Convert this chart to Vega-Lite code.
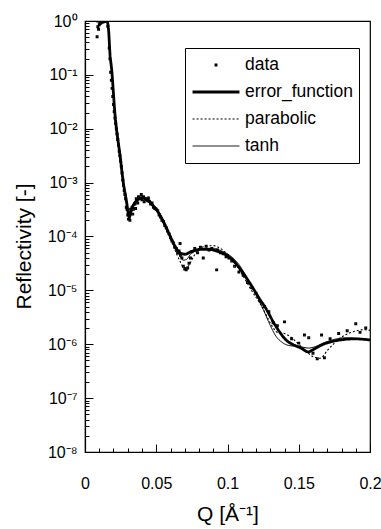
{
  "$schema": "https://vega.github.io/schema/vega-lite/v6.json",
  "width": 285,
  "height": 431,
  "autosize": {"type": "none"},
  "padding": {"left": 85, "top": 21, "right": 11, "bottom": 77},
  "background": "white",
  "config": {
    "view": {"stroke": "black", "strokeWidth": 1.2},
    "font": "Liberation Sans",
    "axis": {"grid": false, "domainColor": "black", "tickColor": "black", "labelColor": "black", "titleColor": "black", "labelFont": "Liberation Sans", "titleFont": "Liberation Sans", "titleFontWeight": "normal", "domainWidth": 1.2, "tickWidth": 1},
    "legend": {"orient": "none", "legendX": 100, "legendY": 27, "strokeColor": "black", "fillColor": "white", "padding": 6, "cornerRadius": 0, "labelFont": "Liberation Sans", "labelFontSize": 17.5, "labelColor": "black", "labelOffset": 4, "symbolSize": 2200, "clipHeight": 22, "rowPadding": 5, "symbolStrokeColor": "black", "title": null}
  },
  "datasets": {
    "pts": [
      {"s": "data", "q": 0.0085, "r": 0.51},
      {"s": "data", "q": 0.009, "r": 0.78},
      {"s": "data", "q": 0.0095, "r": 0.7},
      {"s": "data", "q": 0.010, "r": 0.85},
      {"s": "data", "q": 0.0105, "r": 0.9},
      {"s": "data", "q": 0.011, "r": 0.92},
      {"s": "data", "q": 0.012, "r": 0.95},
      {"s": "data", "q": 0.013, "r": 0.97},
      {"s": "data", "q": 0.014, "r": 1.0},
      {"s": "data", "q": 0.015, "r": 0.98},
      {"s": "data", "q": 0.016, "r": 0.794},
      {"s": "data", "q": 0.017, "r": 0.316},
      {"s": "data", "q": 0.0175, "r": 0.2},
      {"s": "data", "q": 0.018, "r": 0.112},
      {"s": "data", "q": 0.0185, "r": 0.0794},
      {"s": "data", "q": 0.019, "r": 0.0562},
      {"s": "data", "q": 0.0195, "r": 0.0398},
      {"s": "data", "q": 0.020, "r": 0.0282},
      {"s": "data", "q": 0.0205, "r": 0.0209},
      {"s": "data", "q": 0.021, "r": 0.0158},
      {"s": "data", "q": 0.0215, "r": 0.0126},
      {"s": "data", "q": 0.022, "r": 0.01},
      {"s": "data", "q": 0.0225, "r": 0.00794},
      {"s": "data", "q": 0.023, "r": 0.00631},
      {"s": "data", "q": 0.0235, "r": 0.00501},
      {"s": "data", "q": 0.024, "r": 0.0038},
      {"s": "data", "q": 0.0245, "r": 0.00316},
      {"s": "data", "q": 0.025, "r": 0.00251},
      {"s": "data", "q": 0.0255, "r": 0.002},
      {"s": "data", "q": 0.026, "r": 0.00151},
      {"s": "data", "q": 0.0265, "r": 0.00112},
      {"s": "data", "q": 0.027, "r": 0.00089},
      {"s": "data", "q": 0.0275, "r": 0.00071},
      {"s": "data", "q": 0.028, "r": 0.0006},
      {"s": "data", "q": 0.0285, "r": 0.0005},
      {"s": "data", "q": 0.029, "r": 0.00035},
      {"s": "data", "q": 0.0295, "r": 0.00032},
      {"s": "data", "q": 0.030, "r": 0.00025},
      {"s": "data", "q": 0.0305, "r": 0.00021},
      {"s": "data", "q": 0.031, "r": 0.00028},
      {"s": "data", "q": 0.0315, "r": 0.0002},
      {"s": "data", "q": 0.032, "r": 0.00032},
      {"s": "data", "q": 0.033, "r": 0.00035},
      {"s": "data", "q": 0.0335, "r": 0.00026},
      {"s": "data", "q": 0.034, "r": 0.00032},
      {"s": "data", "q": 0.035, "r": 0.0004},
      {"s": "data", "q": 0.0355, "r": 0.00033},
      {"s": "data", "q": 0.036, "r": 0.0005},
      {"s": "data", "q": 0.037, "r": 0.00042},
      {"s": "data", "q": 0.0375, "r": 0.00055},
      {"s": "data", "q": 0.038, "r": 0.0005},
      {"s": "data", "q": 0.039, "r": 0.00052},
      {"s": "data", "q": 0.0395, "r": 0.0006},
      {"s": "data", "q": 0.040, "r": 0.00048},
      {"s": "data", "q": 0.041, "r": 0.00055},
      {"s": "data", "q": 0.0415, "r": 0.00044},
      {"s": "data", "q": 0.042, "r": 0.0005},
      {"s": "data", "q": 0.043, "r": 0.00048},
      {"s": "data", "q": 0.044, "r": 0.00046},
      {"s": "data", "q": 0.0445, "r": 0.00052},
      {"s": "data", "q": 0.045, "r": 0.00045},
      {"s": "data", "q": 0.046, "r": 0.0004},
      {"s": "data", "q": 0.047, "r": 0.00042},
      {"s": "data", "q": 0.048, "r": 0.00035},
      {"s": "data", "q": 0.049, "r": 0.00033},
      {"s": "data", "q": 0.050, "r": 0.00032},
      {"s": "data", "q": 0.051, "r": 0.0003},
      {"s": "data", "q": 0.052, "r": 0.00025},
      {"s": "data", "q": 0.053, "r": 0.00023},
      {"s": "data", "q": 0.054, "r": 0.0002},
      {"s": "data", "q": 0.055, "r": 0.00019},
      {"s": "data", "q": 0.056, "r": 0.00016},
      {"s": "data", "q": 0.057, "r": 0.000145},
      {"s": "data", "q": 0.058, "r": 0.000126},
      {"s": "data", "q": 0.059, "r": 0.000112},
      {"s": "data", "q": 0.060, "r": 0.000095},
      {"s": "data", "q": 0.061, "r": 0.000083},
      {"s": "data", "q": 0.062, "r": 0.000076},
      {"s": "data", "q": 0.063, "r": 0.000063},
      {"s": "data", "q": 0.064, "r": 0.00006},
      {"s": "data", "q": 0.065, "r": 0.00005},
      {"s": "data", "q": 0.066, "r": 0.000054},
      {"s": "data", "q": 0.0667, "r": 0.000074},
      {"s": "data", "q": 0.067, "r": 0.000045},
      {"s": "data", "q": 0.068, "r": 0.00004},
      {"s": "data", "q": 0.069, "r": 0.000028},
      {"s": "data", "q": 0.070, "r": 0.000025},
      {"s": "data", "q": 0.071, "r": 0.000024},
      {"s": "data", "q": 0.072, "r": 0.000026},
      {"s": "data", "q": 0.073, "r": 0.000032},
      {"s": "data", "q": 0.074, "r": 0.00004},
      {"s": "data", "q": 0.075, "r": 0.000052},
      {"s": "data", "q": 0.077, "r": 0.00006},
      {"s": "data", "q": 0.079, "r": 0.00005},
      {"s": "data", "q": 0.081, "r": 0.000063},
      {"s": "data", "q": 0.083, "r": 0.00004},
      {"s": "data", "q": 0.085, "r": 0.000066},
      {"s": "data", "q": 0.087, "r": 0.000056},
      {"s": "data", "q": 0.089, "r": 0.00006},
      {"s": "data", "q": 0.0924, "r": 0.000024},
      {"s": "data", "q": 0.093, "r": 0.000056},
      {"s": "data", "q": 0.095, "r": 0.00005},
      {"s": "data", "q": 0.097, "r": 0.000048},
      {"s": "data", "q": 0.099, "r": 0.000042},
      {"s": "data", "q": 0.101, "r": 0.00004},
      {"s": "data", "q": 0.103, "r": 0.000035},
      {"s": "data", "q": 0.105, "r": 0.000028},
      {"s": "data", "q": 0.108, "r": 0.000022},
      {"s": "data", "q": 0.111, "r": 0.000019},
      {"s": "data", "q": 0.114, "r": 0.000014},
      {"s": "data", "q": 0.117, "r": 0.0000112},
      {"s": "data", "q": 0.120, "r": 0.0000089},
      {"s": "data", "q": 0.123, "r": 0.0000063},
      {"s": "data", "q": 0.126, "r": 0.000005},
      {"s": "data", "q": 0.129, "r": 0.000004},
      {"s": "data", "q": 0.132, "r": 0.0000025},
      {"s": "data", "q": 0.135, "r": 0.0000022},
      {"s": "data", "q": 0.140, "r": 0.0000026},
      {"s": "data", "q": 0.145, "r": 0.00000126},
      {"s": "data", "q": 0.150, "r": 0.00000105},
      {"s": "data", "q": 0.154, "r": 0.00000148},
      {"s": "data", "q": 0.157, "r": 0.00000132},
      {"s": "data", "q": 0.160, "r": 0.00000068},
      {"s": "data", "q": 0.163, "r": 0.00000054},
      {"s": "data", "q": 0.166, "r": 0.00000148},
      {"s": "data", "q": 0.168, "r": 0.00000056},
      {"s": "data", "q": 0.172, "r": 0.00000126},
      {"s": "data", "q": 0.178, "r": 0.00000158},
      {"s": "data", "q": 0.184, "r": 0.00000178},
      {"s": "data", "q": 0.190, "r": 0.0000024},
      {"s": "data", "q": 0.193, "r": 0.00000166},
      {"s": "data", "q": 0.197, "r": 0.000002}
    ],
    "lines": [
      {"s": "error_function", "q": 0.008, "r": 1},
      {"s": "error_function", "q": 0.0155, "r": 0.977},
      {"s": "error_function", "q": 0.0165, "r": 0.708},
      {"s": "error_function", "q": 0.0175, "r": 0.251},
      {"s": "error_function", "q": 0.0187, "r": 0.126},
      {"s": "error_function", "q": 0.0211, "r": 0.0178},
      {"s": "error_function", "q": 0.0246, "r": 0.00316},
      {"s": "error_function", "q": 0.0269, "r": 0.001},
      {"s": "error_function", "q": 0.0293, "r": 0.000417},
      {"s": "error_function", "q": 0.0304, "r": 0.000263},
      {"s": "error_function", "q": 0.0311, "r": 0.000229},
      {"s": "error_function", "q": 0.0325, "r": 0.000302},
      {"s": "error_function", "q": 0.0339, "r": 0.00038},
      {"s": "error_function", "q": 0.0365, "r": 0.000468},
      {"s": "error_function", "q": 0.0386, "r": 0.000513},
      {"s": "error_function", "q": 0.0409, "r": 0.000525},
      {"s": "error_function", "q": 0.044, "r": 0.000479},
      {"s": "error_function", "q": 0.0468, "r": 0.000398},
      {"s": "error_function", "q": 0.0514, "r": 0.000282},
      {"s": "error_function", "q": 0.0549, "r": 0.000191},
      {"s": "error_function", "q": 0.059, "r": 0.000112},
      {"s": "error_function", "q": 0.0632, "r": 0.000066},
      {"s": "error_function", "q": 0.0665, "r": 0.00005},
      {"s": "error_function", "q": 0.0702, "r": 0.0000468},
      {"s": "error_function", "q": 0.0737, "r": 0.0000513},
      {"s": "error_function", "q": 0.0807, "r": 0.0000575},
      {"s": "error_function", "q": 0.0877, "r": 0.0000575},
      {"s": "error_function", "q": 0.0924, "r": 0.0000537},
      {"s": "error_function", "q": 0.0982, "r": 0.0000468},
      {"s": "error_function", "q": 0.1041, "r": 0.0000355},
      {"s": "error_function", "q": 0.1088, "r": 0.0000251},
      {"s": "error_function", "q": 0.1158, "r": 0.0000135},
      {"s": "error_function", "q": 0.1228, "r": 0.00000676},
      {"s": "error_function", "q": 0.1275, "r": 0.00000437},
      {"s": "error_function", "q": 0.132, "r": 0.00000263},
      {"s": "error_function", "q": 0.1368, "r": 0.00000166},
      {"s": "error_function", "q": 0.1415, "r": 0.00000117},
      {"s": "error_function", "q": 0.1462, "r": 0.00000098},
      {"s": "error_function", "q": 0.1515, "r": 0.00000085},
      {"s": "error_function", "q": 0.1567, "r": 0.00000072},
      {"s": "error_function", "q": 0.16, "r": 0.00000079},
      {"s": "error_function", "q": 0.164, "r": 0.00000091},
      {"s": "error_function", "q": 0.1672, "r": 0.000001},
      {"s": "error_function", "q": 0.173, "r": 0.00000112},
      {"s": "error_function", "q": 0.1789, "r": 0.0000012},
      {"s": "error_function", "q": 0.1895, "r": 0.00000126},
      {"s": "error_function", "q": 0.2, "r": 0.0000012},
      {"s": "tanh", "q": 0.008, "r": 1},
      {"s": "tanh", "q": 0.0155, "r": 0.977},
      {"s": "tanh", "q": 0.0165, "r": 0.708},
      {"s": "tanh", "q": 0.0175, "r": 0.251},
      {"s": "tanh", "q": 0.0187, "r": 0.126},
      {"s": "tanh", "q": 0.0211, "r": 0.0178},
      {"s": "tanh", "q": 0.0246, "r": 0.00316},
      {"s": "tanh", "q": 0.0269, "r": 0.001},
      {"s": "tanh", "q": 0.0293, "r": 0.000398},
      {"s": "tanh", "q": 0.0304, "r": 0.000251},
      {"s": "tanh", "q": 0.0311, "r": 0.000219},
      {"s": "tanh", "q": 0.0325, "r": 0.000316},
      {"s": "tanh", "q": 0.0339, "r": 0.000398},
      {"s": "tanh", "q": 0.0386, "r": 0.000525},
      {"s": "tanh", "q": 0.0409, "r": 0.000537},
      {"s": "tanh", "q": 0.0468, "r": 0.000417},
      {"s": "tanh", "q": 0.0514, "r": 0.000295},
      {"s": "tanh", "q": 0.0549, "r": 0.0002},
      {"s": "tanh", "q": 0.059, "r": 0.000112},
      {"s": "tanh", "q": 0.0632, "r": 0.000063},
      {"s": "tanh", "q": 0.0665, "r": 0.0000437},
      {"s": "tanh", "q": 0.069, "r": 0.0000363},
      {"s": "tanh", "q": 0.0715, "r": 0.000038},
      {"s": "tanh", "q": 0.074, "r": 0.0000468},
      {"s": "tanh", "q": 0.078, "r": 0.000055},
      {"s": "tanh", "q": 0.084, "r": 0.0000603},
      {"s": "tanh", "q": 0.09, "r": 0.0000603},
      {"s": "tanh", "q": 0.096, "r": 0.0000537},
      {"s": "tanh", "q": 0.102, "r": 0.0000437},
      {"s": "tanh", "q": 0.108, "r": 0.0000302},
      {"s": "tanh", "q": 0.114, "r": 0.0000166},
      {"s": "tanh", "q": 0.12, "r": 0.0000083},
      {"s": "tanh", "q": 0.125, "r": 0.00000447},
      {"s": "tanh", "q": 0.13, "r": 0.00000224},
      {"s": "tanh", "q": 0.134, "r": 0.00000141},
      {"s": "tanh", "q": 0.138, "r": 0.0000011},
      {"s": "tanh", "q": 0.143, "r": 0.00000095},
      {"s": "tanh", "q": 0.15, "r": 0.00000091},
      {"s": "tanh", "q": 0.157, "r": 0.00000085},
      {"s": "tanh", "q": 0.162, "r": 0.00000091},
      {"s": "tanh", "q": 0.1672, "r": 0.00000105},
      {"s": "tanh", "q": 0.175, "r": 0.00000123},
      {"s": "tanh", "q": 0.182, "r": 0.00000132},
      {"s": "tanh", "q": 0.19, "r": 0.00000129},
      {"s": "tanh", "q": 0.2, "r": 0.0000012},
      {"s": "parabolic", "q": 0.008, "r": 1},
      {"s": "parabolic", "q": 0.0155, "r": 0.977},
      {"s": "parabolic", "q": 0.0165, "r": 0.708},
      {"s": "parabolic", "q": 0.0175, "r": 0.251},
      {"s": "parabolic", "q": 0.0187, "r": 0.12},
      {"s": "parabolic", "q": 0.0211, "r": 0.0166},
      {"s": "parabolic", "q": 0.0246, "r": 0.003},
      {"s": "parabolic", "q": 0.0269, "r": 0.00095},
      {"s": "parabolic", "q": 0.0293, "r": 0.00038},
      {"s": "parabolic", "q": 0.0304, "r": 0.00024},
      {"s": "parabolic", "q": 0.0311, "r": 0.0002},
      {"s": "parabolic", "q": 0.0325, "r": 0.000282},
      {"s": "parabolic", "q": 0.0339, "r": 0.00038},
      {"s": "parabolic", "q": 0.0386, "r": 0.000525},
      {"s": "parabolic", "q": 0.0409, "r": 0.00055},
      {"s": "parabolic", "q": 0.0468, "r": 0.000427},
      {"s": "parabolic", "q": 0.0514, "r": 0.000295},
      {"s": "parabolic", "q": 0.0549, "r": 0.0002},
      {"s": "parabolic", "q": 0.059, "r": 0.000107},
      {"s": "parabolic", "q": 0.0632, "r": 0.000056},
      {"s": "parabolic", "q": 0.0665, "r": 0.0000355},
      {"s": "parabolic", "q": 0.0695, "r": 0.0000263},
      {"s": "parabolic", "q": 0.0725, "r": 0.0000282},
      {"s": "parabolic", "q": 0.076, "r": 0.0000417},
      {"s": "parabolic", "q": 0.08, "r": 0.0000575},
      {"s": "parabolic", "q": 0.085, "r": 0.000066},
      {"s": "parabolic", "q": 0.09, "r": 0.0000676},
      {"s": "parabolic", "q": 0.095, "r": 0.0000603},
      {"s": "parabolic", "q": 0.1, "r": 0.0000468},
      {"s": "parabolic", "q": 0.106, "r": 0.0000302},
      {"s": "parabolic", "q": 0.112, "r": 0.0000166},
      {"s": "parabolic", "q": 0.118, "r": 0.0000089},
      {"s": "parabolic", "q": 0.1228, "r": 0.00000575},
      {"s": "parabolic", "q": 0.127, "r": 0.00000355},
      {"s": "parabolic", "q": 0.131, "r": 0.00000224},
      {"s": "parabolic", "q": 0.135, "r": 0.00000166},
      {"s": "parabolic", "q": 0.14, "r": 0.00000158},
      {"s": "parabolic", "q": 0.145, "r": 0.00000132},
      {"s": "parabolic", "q": 0.15, "r": 0.000001},
      {"s": "parabolic", "q": 0.156, "r": 0.00000071},
      {"s": "parabolic", "q": 0.16, "r": 0.00000059},
      {"s": "parabolic", "q": 0.165, "r": 0.00000055},
      {"s": "parabolic", "q": 0.17, "r": 0.00000076},
      {"s": "parabolic", "q": 0.175, "r": 0.00000105},
      {"s": "parabolic", "q": 0.181, "r": 0.00000141},
      {"s": "parabolic", "q": 0.188, "r": 0.0000017},
      {"s": "parabolic", "q": 0.195, "r": 0.00000186},
      {"s": "parabolic", "q": 0.2, "r": 0.00000182}
    ]
  },
  "encoding": {
    "x": {
      "field": "q", "type": "quantitative",
      "scale": {"domain": [0, 0.2], "nice": false, "zero": false},
      "axis": {
        "title": "Q [Å⁻¹]",
        "values": [0, 0.01, 0.02, 0.03, 0.04, 0.05, 0.06, 0.07, 0.08, 0.09, 0.1, 0.11, 0.12, 0.13, 0.14, 0.15, 0.16, 0.17, 0.18, 0.19, 0.2],
        "format": ".2~f",
        "labelExpr": "abs(datum.value*20 - round(datum.value*20)) < 0.001 ? datum.label : ''",
        "tickSize": {"condition": {"test": "abs(datum.value*20 - round(datum.value*20)) < 0.001", "value": -8}, "value": -4},
        "labelPadding": 31,
        "labelFontSize": 16,
        "labelFlush": false,
        "labelOverlap": false,
        "titleFontSize": 21,
        "titleY": 68,
        "titleBaseline": "alphabetic"
      }
    },
    "y": {
      "field": "r", "type": "quantitative",
      "scale": {"type": "log", "domain": [1e-8, 1], "nice": false},
      "axis": {
        "title": "Reflectivity [-]",
        "values": [1e-8, 2e-8, 3e-8, 4e-8, 5e-8, 6e-8, 7e-8, 8e-8, 9e-8, 1e-7, 2e-7, 3e-7, 4e-7, 5e-7, 6e-7, 7e-7, 8e-7, 9e-7, 1e-6, 2e-6, 3e-6, 4e-6, 5e-6, 6e-6, 7e-6, 8e-6, 9e-6, 1e-5, 2e-5, 3e-5, 4e-5, 5e-5, 6e-5, 7e-5, 8e-5, 9e-5, 1e-4, 2e-4, 3e-4, 4e-4, 5e-4, 6e-4, 7e-4, 8e-4, 9e-4, 0.001, 0.002, 0.003, 0.004, 0.005, 0.006, 0.007, 0.008, 0.009, 0.01, 0.02, 0.03, 0.04, 0.05, 0.06, 0.07, 0.08, 0.09, 0.1, 0.2, 0.3, 0.4, 0.5, 0.6, 0.7, 0.8, 0.9, 1],
        "labelExpr": "abs(log(datum.value)/LN10 - round(log(datum.value)/LN10)) < 0.001 ? '10' + (round(log(datum.value)/LN10) == 0 ? '⁰' : '⁻' + ['⁰','¹','²','³','⁴','⁵','⁶','⁷','⁸'][-round(log(datum.value)/LN10)]) : ''",
        "tickSize": {"condition": {"test": "abs(log(datum.value)/LN10 - round(log(datum.value)/LN10)) < 0.001", "value": -8}, "value": -4},
        "labelPadding": 16,
        "labelFontSize": 16,
        "labelOverlap": false,
        "labelFlush": false,
        "titleFontSize": 21,
        "titleX": -51,
        "titleY": 225,
        "titleAngle": 270,
        "titleBaseline": "bottom",
        "titleAlign": "center"
      }
    }
  },
  "layer": [
    {
      "data": {"name": "lines"},
      "mark": {"type": "line", "color": "black", "clip": true, "interpolate": "monotone"},
      "encoding": {
        "detail": {"field": "s", "type": "nominal"},
        "strokeDash": {
          "field": "s", "type": "nominal",
          "scale": {"domain": ["data", "error_function", "parabolic", "tanh"], "range": [[1, 0], [1, 0], [2, 2], [1, 0]]},
          "legend": {"title": null}
        },
        "strokeWidth": {
          "field": "s", "type": "nominal",
          "scale": {"type": "ordinal", "domain": ["data", "error_function", "parabolic", "tanh"], "range": [1.3, 2.8, 1.1, 1]},
          "legend": {"title": null}
        }
      }
    },
    {
      "data": {"name": "pts"},
      "mark": {"type": "point", "filled": false, "color": "black", "size": 2200, "strokeWidth": 1.3, "opacity": 1, "clip": true},
      "encoding": {
        "shape": {
          "field": "s", "type": "nominal",
          "scale": {"domain": ["data", "error_function", "parabolic", "tanh"], "range": ["M-0.035,-0.035H0.035V0.035H-0.035Z", "stroke", "stroke", "stroke"]},
          "legend": {"title": null}
        }
      }
    }
  ]
}
